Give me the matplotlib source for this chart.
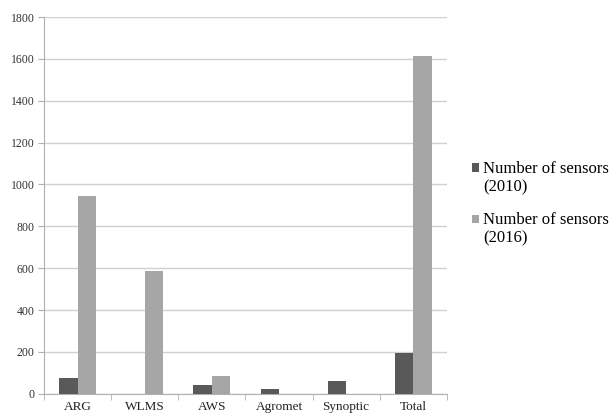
import matplotlib
matplotlib.use("Agg")
import matplotlib.pyplot as plt
from matplotlib.patches import Rectangle
from matplotlib.legend_handler import HandlerPatch
import numpy as np

categories = ["ARG", "WLMS", "AWS", "Agromet", "Synoptic", "Total"]
sensors_2010 = [75, 0, 40, 22, 60, 197]
sensors_2016 = [945, 585, 85, 0, 0, 1615]
series_labels = ["Number of sensors\n(2010)", "Number of sensors\n(2016)"]
yticks = [0, 200, 400, 600, 800, 1000, 1200, 1400, 1600, 1800]

plt.rcParams['font.family'] = ['Liberation Serif', 'DejaVu Serif']

fig = plt.figure(figsize=(6.12, 4.15), dpi=100)
ax = fig.add_axes([0.072, 0.051, 0.658, 0.908])

x = np.arange(len(categories))
w = 0.275
b1 = ax.bar(x - w/2, sensors_2010, width=w, color="#595959", zorder=3)
b2 = ax.bar(x + w/2, sensors_2016, width=w, color="#A6A6A6", zorder=3)

ax.set_xlim(-0.5, len(categories) - 0.5)
ax.set_ylim(0, 1800)
ax.set_yticks(yticks)
ax.set_yticklabels([str(t) for t in yticks], fontsize=8.5, color="#333333")
ax.yaxis.grid(True, color="#D0D0D0", linewidth=1.0, zorder=0)
ax.set_xticks(x)
ax.set_xticklabels(categories, fontsize=9.5, color="#222222")
ax.set_xticks(np.arange(-0.5, len(categories)), minor=True)
ax.tick_params(axis='x', which='major', length=0, pad=5)
ax.tick_params(axis='x', which='minor', length=4, color="#B0B0B0")
ax.tick_params(axis='y', length=4, color="#B0B0B0", pad=3)

for s in ["top", "right"]:
    ax.spines[s].set_visible(False)
for s in ["left", "bottom"]:
    ax.spines[s].set_color("#B0B0B0")


def top_square(legend, orig_handle, xdescent, ydescent, width, height, fontsize):
    return Rectangle((-xdescent, -ydescent + 7.5), width, height)


h1 = b1.patches[0]
h2 = b2.patches[0]
hmap = {h1: HandlerPatch(patch_func=top_square), h2: HandlerPatch(patch_func=top_square)}
fig.legend([h1, h2], series_labels, loc="upper left", bbox_to_anchor=(0.771, 0.613),
           frameon=False, fontsize=12, handlelength=0.42, handleheight=0.42,
           handletextpad=0.24, labelspacing=1.02, borderpad=0, borderaxespad=0,
           handler_map=hmap)

fig.savefig("out.png", dpi=100)
